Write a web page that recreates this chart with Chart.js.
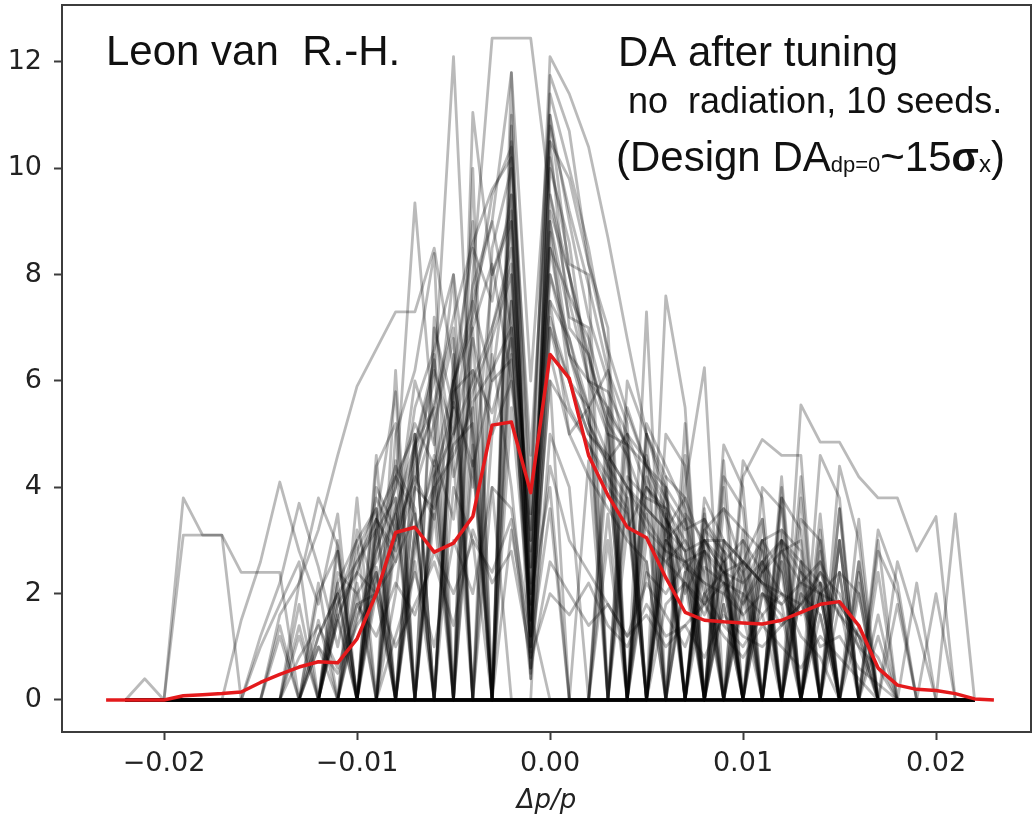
<!DOCTYPE html>
<html>
<head>
<meta charset="utf-8">
<script src="https://cdn.jsdelivr.net/npm/chart.js@4.4.0/dist/chart.umd.min.js"></script>
<style>
  html, body { margin: 0; padding: 0; background: #fff; }
</style>
</head>
<body>
<canvas id="da-chart" width="1033" height="817"></canvas>
<script>
// momentum deviation grid (dp/p)
const dp = [
  -0.023, -0.022, -0.021, -0.020, -0.019, -0.018, -0.017, -0.016, -0.015, -0.014,
  -0.013, -0.012, -0.011, -0.010, -0.009, -0.008, -0.007, -0.006, -0.005, -0.004,
  -0.003, -0.002, -0.001, 0.000, 0.001, 0.002, 0.003, 0.004, 0.005, 0.006,
  0.007, 0.008, 0.009, 0.010, 0.011, 0.012, 0.013, 0.014, 0.015, 0.016,
  0.017, 0.018, 0.019, 0.020, 0.021, 0.022, 0.023,
];

// mean DA over all seeds / angles (red)
const meanDA = [
  0, 0, 0, 0, 0.08, 0.1, 0.12, 0.15, 0.33, 0.48,
  0.62, 0.72, 0.7, 1.15, 2.0, 3.15, 3.25, 2.78, 2.95, 3.45,
  5.17, 5.23, 3.9, 6.5, 6.05, 4.6, 3.85, 3.25, 3.05, 2.3,
  1.65, 1.5, 1.47, 1.45, 1.43, 1.5, 1.65, 1.8, 1.85, 1.4,
  0.6, 0.28, 0.2, 0.18, 0.12, 0.02, 0,
];

// individual seed curves (grey), DA in sigma_x
const c01 = [null,0,0.4,0,3.8, 3.1,3.1,0,0,0, 0,0,0,0,0, 0,0,0,0,0, 0,0,0,0,0, 0,0,0,0,0, 0,0,0,0,0, 0,0,0,0,0, 0,0,0,0,0, 0,null];
const c02 = [null,0,0,0,3.1, 3.1,3.1,2.4,2.4,2.4, 0,0,0,0,0, 0,0,0,0,0, 0,0,0,0,0, 0,0,0,0,0, 0,0,0,0,0, 0,0,0,0,0, 0,0,0,0,0, 0,null];
const c03 = [null,0,0,0,0, 0,0,1.5,2.6,4.1, 2.8,1.8,3.5,0,2.0, 0,0,0,0,0, 0,0,0,0,0, 0,0,0,0,0, 0,0,0,0,0, 0,0,0,0,0, 0,0,0,0,0, 0,null];
const c04 = [null,0,0,0,0, 0,0,0,1.2,2.2, 3.7,2.5,1.0,2.8,3.6, 0,2.6,0,0,0, 0,0,0,0,0, 0,0,0,0,0, 0,0,0,0,0, 0,0,0,0,0, 0,0,0,0,0, 0,null];
const c05 = [null,0,0,0,0, 0,0,0,0,1.6, 2.2,3.8,2.9,0,4.4, 5.2,0,3.5,0,0, 0,0,0,0,0, 0,0,0,0,0, 0,0,0,0,0, 0,0,0,0,0, 0,0,0,0,0, 0,null];
const c06 = [null,0,0,0,0, 0,0,0,0,0, 2.2,3.2,4.6,5.9,6.6, 7.3,7.3,8.5,6.2,0, 4.0,0,0,0,0, 0,0,0,0,0, 0,0,0,0,0, 0,0,0,0,0, 0,0,0,0,0, 0,null];
const c07 = [null,0,0,0,0, 0,0,0,0,0, 1.2,0,2.0,0,2.5, 0,4.0,6.5,0,8.0, 12.45,12.45,12.45,9.5,8.0, 6.0,5.5,0,3.5,0, 2.4,0,1.8,0,0, 0,0,0,0,0, 0,0,0,0,0, 0,null];
const m01 = [null,0,0,0,0, 0,0,0,0,0, 0,1.2,2.0,0,3.0, 4.2,3.5,0,6.0,7.5, 9.0,11.8,6.0,11.0,8.0, 6.5,5.2,0,4.6,3.0, 3.4,2.0,0,2.6,2.2, 1.8,0,0,0,0, 0,0,0,0,0, 0,null];
const m02 = [null,0,0,0,0, 0,0,0,0,0, 0,0,1.5,2.6,3.2, 0,4.8,5.5,7.0,0, 0,10.5,3.0,8.0,6.5, 5.5,6.2,4.5,0,3.2, 3.8,2.8,0,2.0,3.0, 2.4,0,1.6,0,0, 0,0,0,0,0, 0,null];
const m03 = [null,0,0,0,0, 0,0,0,0,0, 0,0,2.2,0,3.4, 4.2,5.0,0,6.2,8.5, 7.5,9.5,1.5,9.0,7.2, 7.0,0,5.5,4.4,4.0, 0,3.2,3.6,2.5,0, 3.0,2.6,2.2,0,0, 0,0,0,0,0, 0,null];
const m04 = [null,0,0,0,0, 0,0,0,0,0, 0,1.5,0,2.4,3.8, 3.0,5.5,6.6,8.0,5.0, 0,11.8,0.4,11.75,10.7, 8.2,7.0,0,5.0,4.2, 3.8,0,3.0,2.6,2.2, 0,2.6,0,1.8,0, 0,0,0,0,0, 0,null];
const m05 = [null,0,0,0,0, 0,0,0,0,0, 1.4,0,2.4,2.0,0, 3.0,4.4,5.5,0,7.5, 6.0,9.0,0.8,10.5,7.0, 6.5,5.0,4.8,0,3.5, 2.0,2.8,0,2.4,3.0, 3.2,0,2.6,0,2.0, 0,0,0,0,0, 0,null];
const m06 = [null,0,0,0,0, 0,0,0,0,0, 0,0,0,1.6,2.4, 0,4.0,5.2,6.8,0, 8.5,10.0,1.2,9.5,7.5, 6.0,5.8,5.0,4.5,0, 3.5,3.0,2.6,0,3.0, 0,2.4,0,3.0,0, 1.2,0,0,0,0, 0,null];
const m07 = [null,0,0,0,0, 0,0,0,0,0, 0,1.0,0,1.8,2.0, 2.6,3.5,0,5.8,6.2, 0,8.0,2.0,8.8,6.0, 5.5,0,4.2,3.8,3.6, 0,2.5,2.2,2.0,0, 2.8,3.0,0,2.4,0, 0,0,0,0,0, 0,null];
const m08 = [null,0,0,0,0, 0,0,0,0,0, 0,0,0,0,0, 3.5,4.6,6.0,12.1,4.5, 0,7.5,3.0,8.5,6.5, 5.2,4.5,0,3.0,2.6, 2.2,0,1.8,0,0, 0,0,0,0,0, 0,0,0,0,0, 0,null];
const m09 = [null,0,0,0,0, 0,0,0,0,0, 0,0,0,0,2.8, 4.0,9.35,5.0,0,11.05, 8.0,9.0,2.5,7.5,5.0, 5.5,0,4.0,3.2,2.8, 0,2.0,2.4,0,0, 0,0,0,0,0, 0,0,0,0,0, 0,null];
const m10 = [null,0,0,0,0, 0,0,0,0,0, 0,0,1.8,3.0,0, 5.0,6.2,8.4,0,10.0, 0,11.0,0.6,11.0,9.0, 7.2,6.0,0,4.2,3.4, 2.8,0,2.0,2.6,3.4, 0,2.0,0,0,0, 0,0,0,0,0, 0,null];
const m11 = [null,0,0,0,0, 0,0,0,0,0, 0,0,1.5,0,4.0, 3.2,6.0,4.8,8.0,0, 0,9.5,1.8,10.2,8.2, 8.0,0,6.0,5.0,4.0, 0,3.2,2.8,2.4,0, 2.6,0,3.2,0,1.4, 0,0,0,0,0, 0,null];
const m12 = [null,0,0,0,0, 0,0,0,0,0, 0,0,0,0,0, 4.5,0,7.0,5.5,9.0, 0,10.8,4.0,11.4,10.0, 8.5,6.5,0,5.2,4.4, 3.6,0,2.8,0,0, 3.0,2.4,2.0,0,0, 0,0,0,0,0, 0,null];
const m13 = [null,0,0,0,0, 0,0,0,0,0, 0,0,0,2.2,0, 3.8,0,4.2,5.5,0, 7.0,8.5,1.0,9.0,6.5, 6.0,5.0,0,3.8,0, 2.4,3.0,0,0,2.6, 0,0,2.2,0,0, 0,0,0,0,0, 0,null];
const m14 = [null,0,0,0,0, 0,0,0,0,0, 0,0,0,2.0,2.6, 3.5,0,4.0,4.6,5.5, 0,6.5,1.2,7.0,5.5, 4.8,4.0,3.5,0,3.0, 2.5,2.2,0,1.8,2.4, 0,2.0,1.6,0,0, 0,0,0,0,0, 0,null];
const m15 = [null,0,0,0,0, 0,0,0,0,0, 0,0,1.6,0,3.2, 4.4,3.6,0,5.0,6.8, 5.0,7.5,2.5,6.5,5.0, 4.2,3.6,3.0,2.6,0, 2.2,1.8,2.6,0,2.0, 1.6,0,2.0,0,0, 0,0,0,0,0, 0,null];
const m16 = [null,0,0,0,0, 0,0,0,0,0, 0,0,0,0,2.4, 0,3.0,4.4,0,5.6, 6.2,7.0,0.5,8.0,6.8, 5.2,4.4,3.8,0,3.4, 2.8,0,3.0,2.2,0, 2.6,0,2.0,2.4,0, 0,0,0,0,0, 0,null];
const m17 = [null,0,0,0,0, 0,0,0,0,0, 0,0,0,0,0, 2.0,5.0,0,6.0,4.0, 8.0,9.2,2.2,10.0,8.6, 6.0,0,5.0,4.0,3.6, 0,3.0,2.4,0,0, 0,0,0,0,0, 0,0,0,0,0, 0,null];
const m18 = [null,0,0,0,0, 0,0,0,0,0, 0,0,0,0,0, 0,0,3.8,6.0,7.2, 9.5,10.4,3.5,10.8,9.2, 7.8,6.2,5.2,0,4.0, 3.4,0,2.6,0,0, 0,0,0,0,0, 0,0,0,0,0, 0,null];
const n01 = [null,0,0,0,0, 0,0,0,0,0, 0,0,0,1.5,2.8, 4.0,5.2,4.4,6.0,7.0, 8.2,6.0,3.2,7.5,6.8, 5.5,4.6,4.0,3.4,2.8, 2.6,2.2,2.0,1.6,0, 0,0,0,0,0, 0,0,0,0,0, 0,null];
const n02 = [null,0,0,0,0, 0,0,0,0,0, 0,0,0,0,2.2, 3.6,4.8,6.2,5.0,7.8, 9.0,7.0,1.5,6.0,5.4, 4.8,4.2,3.6,0,3.0, 2.6,2.8,2.2,0,2.0, 1.8,2.2,0,0,0, 0,0,0,0,0, 0,null];
const n03 = [null,0,0,0,0, 0,0,0,0,0, 0,0,1.8,2.4,3.4, 2.6,4.8,6.4,4.2,5.8, 6.8,8.0,2.8,9.2,8.0, 6.4,5.2,4.6,3.6,3.2, 0,2.8,2.4,2.2,2.6, 0,2.2,2.0,1.8,1.2, 0,0,0,0,0, 0,null];
const n04 = [null,0,0,0,0, 0,0,0,0,0, 0,0,0,0,0, 3.2,4.2,5.6,7.2,8.6, 9.6,10.2,4.6,10.5,9.8, 8.2,6.6,5.4,4.4,3.6, 3.0,2.4,0,2.0,1.6, 0,0,0,0,0, 0,0,0,0,0, 0,null];
const n05 = [null,0,0,0,0, 0,0,0,0,0, 0,0,0,0,0, 0,2.8,4.6,3.4,6.2, 5.4,6.8,1.8,7.2,6.0, 5.0,4.6,4.0,3.6,3.2, 2.8,3.0,2.4,2.6,2.2, 2.0,1.8,2.4,1.6,1.0, 0,0,0,0,0, 0,null];
const n06 = [null,0,0,0,0, 0,0,0,0,0, 0,0,0,0,0, 0,0,4.2,5.0,6.0, 7.0,8.2,0.9,8.5,7.6, 6.8,5.4,4.8,4.4,3.8, 3.2,3.4,2.6,3.0,2.4, 2.8,2.2,2.6,1.8,1.2, 0,0,0,0,0, 0,null];
const n07 = [null,0,0,0,0, 0,0,0,0,0, 0,0,0,0,0, 0,0,0,0,0, 0,0,0,0,0, 0,0,0,2.4,2.0, 2.6,1.8,2.2,1.6,2.0, 1.4,1.8,2.2,1.6,1.2, 0.8,0,0,0,0, 0,null];
const n08 = [null,0,0,0,0, 0,0,0,0,0, 0,0,0,0,0, 0,0,0,0,0, 0,0,0,0,0, 0,0,0,0,1.8, 2.2,1.6,2.4,1.8,2.6, 2.0,1.6,2.4,2.0,1.0, 0.6,0,0,0,0, 0,null];
const n09 = [null,0,0,0,0, 0,0,0,0,0, 0,1.2,2.0,2.6,3.4, 2.8,4.0,3.6,4.8,5.2, 0,0,0,0,0, 0,0,0,0,0, 0,0,0,0,0, 0,0,0,0,0, 0,0,0,0,0, 0,null];
const n10 = [null,0,0,0,0, 0,0,0,0,0, 0,0,1.6,2.4,2.0, 3.0,4.2,3.4,5.6,4.4, 6.0,6.4,1.6,0,0, 0,0,0,0,0, 0,0,0,0,0, 0,0,0,0,0, 0,0,0,0,0, 0,null];
const p01 = [null,0,0,0,0, 0,0,0,0,0, 0.8,1.4,0.6,1.8,1.2, 2.2,1.6,2.8,2.0,3.0, 2.4,3.4,0.6,2.6,2.0, 1.4,1.8,1.2,1.6,1.0, 1.4,1.8,1.2,0.8,1.4, 1.0,0.6,1.2,0.8,0.4, 0,0,0,0,0, 0,null];
const p02 = [null,0,0,0,0, 0,0,0,0,0, 0,1.0,0.5,1.4,2.0, 1.0,1.8,2.6,1.4,3.2, 2.2,2.8,0.8,2.0,1.6, 2.2,1.4,1.0,1.8,1.2, 1.4,0.8,1.6,1.2,1.0, 1.4,1.8,1.0,1.2,0.6, 0.3,0,0,0,0, 0,null];
const p03 = [null,0,0,0,0, 0,0,0,0,0, 0,0,0,0,0, 1.2,2.4,1.0,3.0,2.0, 4.0,3.6,1.2,4.4,3.0, 2.4,1.8,1.2,2.2,1.6, 1.0,2.0,1.4,1.0,1.6, 2.0,1.2,0.8,0,0, 0,0,0,0,0, 0,null];
const c15 = [null,0,0,0,0, 0,0,0,0,0, 0,0,0,0,0, 0,0,0,0,4.5, 0,7.0,3.5,12.1,11.4, 10.4,8.7,6.8,5.0,3.8, 2.5,0,2.2,0,0, 0,0,0,0,0, 0,0,0,0,0, 0,null];
const c22 = [null,0,0,0,0, 0,0,0,0,0, 0,0,0,0,0, 0,0,0,0,0, 0,0,0,7.0,6.0, 5.0,4.5,0,4.0,3.5, 0,3.0,3.0,0,2.6, 3.0,0,2.2,0,0, 0,0,0,0,0, 0,null];
const c23 = [null,0,0,0,0, 0,0,0,0,0, 0,0,0,0,0, 0,0,0,0,0, 0,0,0,0,0, 0,5.5,4.8,0,5.0, 4.4,0,4.2,3.6,0, 3.8,3.2,0,3.0,0, 2.4,0,0,0,0, 0,null];
const c24 = [null,0,0,0,0, 0,0,0,0,0, 0,0,0,0,0, 0,0,0,0,0, 0,0,0,0,0, 0,5.0,0,7.3,0, 5.2,0,4.8,4.0,0, 4.2,0,3.5,0,2.6, 0,0,0,0,0, 0,null];
const c25 = [null,0,0,0,0, 0,0,0,0,0, 0,0,0,0,0, 0,0,0,0,0, 0,0,0,0,0, 0,4.5,5.0,0,7.6, 5.5,0,4.5,0,4.0, 3.6,0,3.0,0,2.2, 0,0,0,0,0, 0,null];
const c26 = [null,0,0,0,0, 0,0,0,0,0, 0,0,0,0,0, 0,0,0,0,0, 0,0,0,0,0, 0,0,0,0,0, 4.0,6.25,0,4.5,3.8, 0,5.55,4.85,4.85,4.2, 3.8,3.8,2.8,3.45,0, 0,null];
const c27 = [null,0,0,0,0, 0,0,0,0,0, 0,0,0,0,0, 0,0,0,0,0, 0,0,0,0,0, 0,0,0,0,0, 0,0,0,3.2,0, 4.0,0,4.6,3.8,0, 3.0,0,2.2,0,3.5, 0,null];
const c28 = [null,0,0,0,0, 0,0,0,0,0, 0,0,0,0,0, 0,0,0,0,0, 0,0,0,0,0, 0,0,0,0,0, 0,3.5,0,4.2,4.9, 4.6,4.6,0,3.6,0, 2.8,2.0,0,0,0, 0,null];
const c29 = [null,0,0,0,0, 0,0,0,0,0, 0,0,0,0,0, 0,0,0,0,0, 0,0,0,0,0, 0,0,0,0,0, 0,0,0,0,3.0, 0,3.8,0,4.4,3.0, 0,2.6,1.4,0,0, 0,null];
const c30 = [null,0,0,0,0, 0,0,0,0,0, 0,0,0,0,0, 0,0,0,0,0, 0,0,0,0,0, 0,0,0,0,0, 0,0,0,0,0, 0,2.6,0,3.0,0, 3.2,2.2,0,2.0,0, 0,null];
const c31 = [null,0,0,0,0, 0,0,0,0,0, 0,0,0,0,0, 0,0,0,0,0, 0,0,0,0,0, 0,0,0,0,3.0, 0,3.4,2.8,0,2.4, 3.0,0,2.0,0,3.4, 0,0,0,0,0, 0,null];
const c32 = [null,0,0,0,0, 0,0,0,0,0, 1.8,0,2.8,0,4.6, 0,5.0,0,6.5,0, 5.0,6.0,2.0,4.0,0, 0,0,0,0,0, 0,0,0,0,0, 0,0,0,0,0, 0,0,0,0,0, 0,null];
const c33 = [null,0,0,0,0, 0,0,0,0,0, 0,0,3.0,0,3.4, 5.8,0,4.5,0,7.0, 0,5.5,1.5,6.0,0, 0,0,0,0,0, 0,0,0,0,0, 0,0,0,0,0, 0,0,0,0,0, 0,null];
const c34 = [null,0,0,0,0, 0,0,0,0,0, 0,0,0,3.8,0, 6.2,0,7.2,4.5,0, 6.5,4.0,0.4,5.0,4.0, 0,3.5,0,2.6,0, 0,0,0,0,0, 0,0,0,0,0, 0,0,0,0,0, 0,null];
const c35 = [null,0,0,0,0, 0,0,0,0,1.2, 0,2.2,0,3.2,2.0, 0,3.2,0,4.0,3.0, 0,3.2,1.0,3.6,0, 0,0,0,0,0, 0,0,0,0,0, 0,0,0,0,0, 0,0,0,0,0, 0,null];
const c36 = [null,0,0,0,0, 0,0,0,0,0, 0,0,0,0,0, 0,0,0,0,0, 0,0,0,0,0, 4.5,0,3.8,0,4.2, 0,3.6,0,3.0,0, 3.8,0,2.8,0,2.4, 0,0,0,0,0, 0,null];
const c37 = [null,0,0,0,0, 0,0,0,0,0, 0,0,0,0,0, 0,0,0,0,0, 0,0,0,0,0, 0,3.0,0,5.0,0, 4.6,0,4.0,0,3.4, 0,4.2,0,3.6,0, 1.6,0,0,0,0, 0,null];
const l01 = [null,0,0,0,0, 0,0,0,1.0,1.8, 2.6,0,2.2,3.0,3.6, 0,3.2,4.0,0,4.8, 0,0,0,0,0, 0,0,0,0,0, 0,0,0,0,0, 0,0,0,0,0, 0,0,0,0,0, 0,null];
const l02 = [null,0,0,0,0, 0,0,0,0,1.4, 0,2.0,2.8,0,3.2, 3.8,0,0,0,0, 0,0,0,0,0, 0,0,0,0,0, 0,0,0,0,0, 0,0,0,0,0, 0,0,0,0,0, 0,null];
const r01 = [null,0,0,0,0, 0,0,0,0,0, 0,0,0,0,0, 0,0,0,0,0, 0,0,0,0,0, 0,0,3.2,4.0,3.4, 0,3.8,3.0,2.6,0, 3.2,2.8,0,2.4,2.0, 0,0,0,0,0, 0,null];
const r02 = [null,0,0,0,0, 0,0,0,0,0, 0,0,0,0,0, 0,0,0,0,0, 0,0,0,0,0, 0,0,0,0,2.6, 3.0,0,3.6,3.2,2.8, 0,3.4,3.0,0,2.6, 0,1.8,0,0,0, 0,null];

const seedCurves = [
  c01, c02, c03, c04, c05, c06, c07,
  m01, m02, m03, m04, m05, m06, m07, m08, m09, m10, m11, m12, m13, m14, m15, m16, m17, m18,
  n01, n02, n03, n04, n05, n06, n07, n08, n09, n10, p01, p02, p03,
  c15, c22, c23, c24, c25, c26, c27, c28, c29, c30, c31, c32, c33, c34, c35, c36, c37,
  l01, l02, r01, r02,
];

const xTicks = [-0.02, -0.01, 0, 0.01, 0.02];
const yTicks = [0, 2, 4, 6, 8, 10, 12];

const toPoints = (values) => values.map((v, i) => ({ x: dp[i], y: v }));
const tickFont = { family: 'DejaVu Sans', size: 27 };
const axisColor = '#3c3c3c';

const datasets = seedCurves.map((values) => ({
  data: toPoints(values),
  borderColor: 'rgba(0,0,0,0.27)',
  borderWidth: 2.8,
  borderJoinStyle: 'round',
  pointRadius: 0,
  order: 1,
}));
datasets.push({
  data: toPoints(meanDA),
  borderColor: '#e41a1c',
  borderWidth: 3.5,
  borderJoinStyle: 'round',
  pointRadius: 0,
  order: 0,
});

// top/right spines and the slide annotations
const frameAndNotes = {
  id: 'frameAndNotes',
  afterDraw(chart) {
    const { ctx, chartArea: a } = chart;
    ctx.save();
    ctx.strokeStyle = axisColor;
    ctx.lineWidth = 2;
    ctx.beginPath();
    ctx.moveTo(a.left, a.top);
    ctx.lineTo(a.right, a.top);
    ctx.lineTo(a.right, a.bottom);
    ctx.stroke();

    const sans = '"Liberation Sans", Arial, sans-serif';
    ctx.fillStyle = '#111';
    ctx.textBaseline = 'alphabetic';
    ctx.font = `42px ${sans}`;
    ctx.fillText('Leon van  R.-H.', 106, 65);
    ctx.fillText('DA after tuning', 618, 66);
    ctx.font = `36px ${sans}`;
    ctx.fillText('no  radiation, 10 seeds.', 628, 113);

    let x = 616;
    const base = 171;
    const run = (text, font, dy = 0) => {
      ctx.font = font;
      ctx.fillText(text, x, base + dy);
      x += ctx.measureText(text).width;
    };
    run('(Design DA', `42px ${sans}`);
    run('dp=0', `22px ${sans}`, 1);
    run('~15', `42px ${sans}`);
    run('σ', `bold 40px ${sans}`);
    run('x', `24px ${sans}`, 1);
    run(')', `42px ${sans}`);
    ctx.restore();
  },
};

new Chart(document.getElementById('da-chart'), {
  type: 'line',
  data: { datasets },
  plugins: [frameAndNotes],
  options: {
    responsive: false,
    animation: false,
    events: [],
    layout: { padding: { top: 5, right: 2, left: 0, bottom: 0 } },
    elements: { line: { tension: 0 } },
    scales: {
      x: {
        type: 'linear',
        min: -0.025285,
        max: 0.024922,
        afterBuildTicks: (axis) => { axis.ticks = xTicks.map((value) => ({ value })); },
        afterFit: (axis) => {
          axis.height = 85;
          axis.paddingLeft = 0;
          axis.paddingRight = 0;
        },
        ticks: {
          font: tickFont,
          color: '#222',
          padding: 8,
          maxRotation: 0,
          autoSkip: false,
          callback: (v) => (v < 0 ? '\u2212' : '') + Math.abs(v).toFixed(2),
        },
        grid: { drawOnChartArea: false, drawTicks: true, tickLength: 8, tickWidth: 2, tickColor: axisColor },
        border: { display: true, color: axisColor, width: 2 },
        title: {
          display: true,
          text: 'Δp/p',
          font: { family: 'DejaVu Sans', size: 26, style: 'italic' },
          color: '#222',
          padding: { top: 0, bottom: 0 },
        },
      },
      y: {
        min: -0.602,
        max: 13.072,
        afterBuildTicks: (axis) => { axis.ticks = yTicks.map((value) => ({ value })); },
        afterFit: (axis) => {
          axis.width = 62;
          axis.paddingTop = 0;
          axis.paddingBottom = 0;
        },
        ticks: { font: tickFont, color: '#222', padding: 12, callback: (v) => String(v) },
        grid: { drawOnChartArea: false, drawTicks: true, tickLength: 8, tickWidth: 2, tickColor: axisColor },
        border: { display: true, color: axisColor, width: 2 },
      },
    },
    plugins: {
      legend: { display: false },
      tooltip: { enabled: false },
    },
  },
});
</script>
</body>
</html>
